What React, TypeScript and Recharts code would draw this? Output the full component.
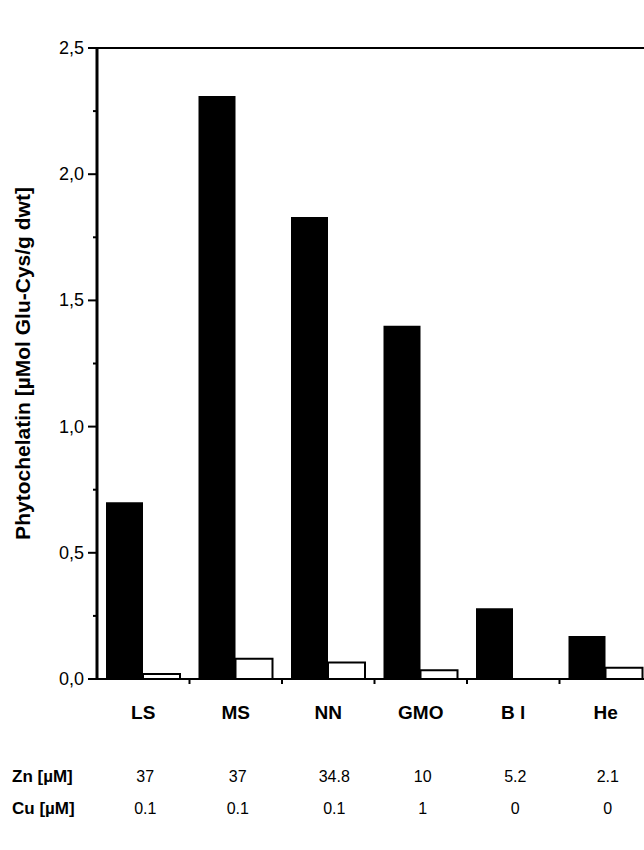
import React from 'react'
import { BarChart, Bar, XAxis, YAxis, ReferenceLine, Label } from 'recharts'

const categories = ['LS', 'MS', 'NN', 'GMO', 'B l', 'He']
const filledValues = [0.70, 2.31, 1.83, 1.40, 0.28, 0.17]
const openValues = [0.02, 0.08, 0.065, 0.035, 0, 0.045]
const znValues = ['37', '37', '34.8', '10', '5.2', '2.1']
const cuValues = ['0.1', '0.1', '0.1', '1', '0', '0']
const yTicks = [0, 0.25, 0.5, 0.75, 1, 1.25, 1.5, 1.75, 2, 2.25, 2.5]

const data = categories.map((c, i) => ({ cat: c, filled: filledValues[i], open: openValues[i] }))

const FONT = '"Liberation Sans", Arial, Helvetica, sans-serif'
const W = 660
const H = 850
const LEFT = 97
const RIGHT = 8
const BAND = (W - LEFT - RIGHT) / categories.length

function XTick(props: any) {
  const { x, y, payload, index } = props
  return (
    <g fontFamily={FONT} fill="#000">
      <line x1={x + BAND / 2} x2={x + BAND / 2} y1={y} y2={y + 5} stroke="#000" strokeWidth={2} />
      <text x={x} y={y + 40} textAnchor="middle" fontSize={19} fontWeight="bold">{payload.value}</text>
      <text x={x + (index === 2 ? 6 : 2)} y={y + 103} textAnchor="middle" fontSize={16}>{znValues[index]}</text>
      <text x={x + (index === 2 ? 6 : 2)} y={y + 135} textAnchor="middle" fontSize={16}>{cuValues[index]}</text>
      {index === 0 && (
        <>
          <text x={12} y={y + 103} fontSize={17} fontWeight="bold">Zn [µM]</text>
          <text x={12} y={y + 135} fontSize={17} fontWeight="bold">Cu [µM]</text>
        </>
      )}
    </g>
  )
}

function YTick(props: any) {
  const { x, y, payload } = props
  const v = payload.value as number
  const major = Math.abs(v * 2 - Math.round(v * 2)) < 1e-6
  return (
    <g>
      <line x1={x - (major ? 9 : 4)} x2={x} y1={y} y2={y} stroke="#000" strokeWidth={2} />
      {major && (
        <text x={x - 13} y={y} dy={6} textAnchor="end" fontSize={18} fontFamily={FONT} fill="#000">
          {v.toFixed(1).replace('.', ',')}
        </text>
      )}
    </g>
  )
}

function YLabel(props: any) {
  const { viewBox } = props
  const cy = viewBox.y + viewBox.height / 2
  return (
    <text
      x={22}
      y={cy}
      transform={`rotate(-90, 22, ${cy})`}
      textAnchor="middle"
      dominantBaseline="central"
      fontSize={21}
      fontWeight="bold"
      fontFamily={FONT}
      fill="#000"
    >
      Phytochelatin [µMol Glu-Cys/g dwt]
    </text>
  )
}

export default function App() {
  return (
    <div style={{ position: 'absolute', left: 0, top: 0, width: 644, height: 850, overflow: 'hidden', background: '#fff' }}>
      <BarChart
        width={W}
        height={H}
        data={data}
        margin={{ top: 48, right: RIGHT, left: 0, bottom: 0 }}
        barCategoryGap={9}
        barGap={0}
      >
        <XAxis
          dataKey="cat"
          height={H - 679}
          interval={0}
          tickSize={0}
          tickMargin={0}
          tickLine={false}
          axisLine={{ stroke: '#000', strokeWidth: 2 }}
          tick={<XTick />}
        />
        <YAxis
          width={LEFT}
          domain={[0, 2.5]}
          ticks={yTicks}
          interval={0}
          tickSize={0}
          tickMargin={0}
          tickLine={false}
          axisLine={{ stroke: '#000', strokeWidth: 3 }}
          tick={<YTick />}
        >
          <Label content={<YLabel />} />
        </YAxis>
        <ReferenceLine y={2.5} stroke="#000" strokeWidth={2} />
        <Bar dataKey="filled" fill="#000" isAnimationActive={false} />
        <Bar dataKey="open" fill="#fff" stroke="#000" strokeWidth={2} isAnimationActive={false} />
      </BarChart>
    </div>
  )
}
